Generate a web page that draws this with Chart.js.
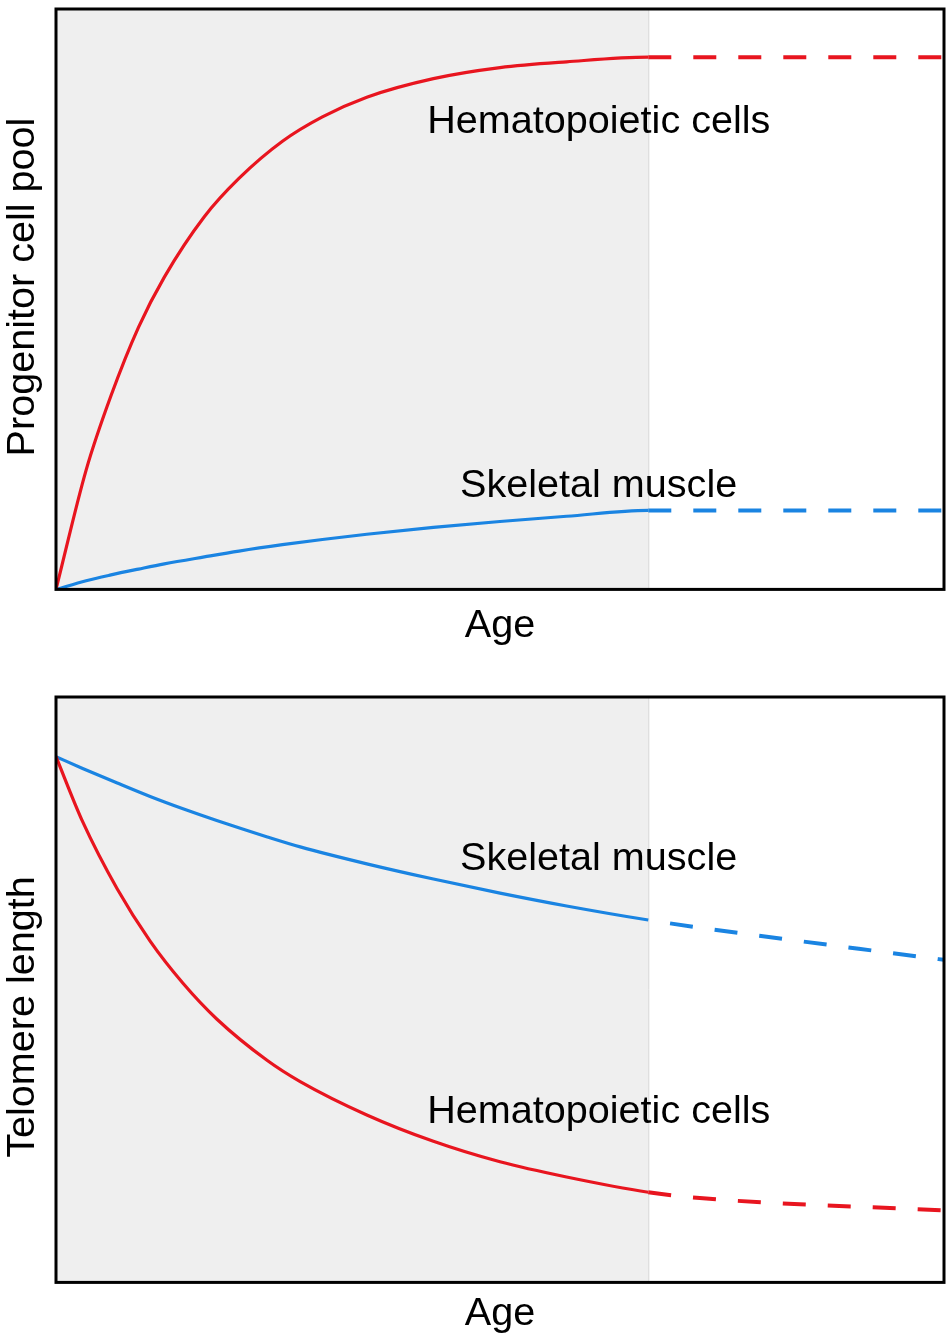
<!DOCTYPE html>
<html>
<head>
<meta charset="utf-8">
<script src="https://cdn.jsdelivr.net/npm/chart.js@4.4.1/dist/chart.umd.min.js"></script>
<style>
  html, body { margin: 0; padding: 0; background: #fff; overflow: hidden; }
  canvas { display: block; }
</style>
</head>
<body>
<canvas id="progenitor" width="946" height="660"></canvas>
<canvas id="telomere" width="946" height="675"></canvas>
<script>
/*************  data  ****************/
// top panel: progenitor cell pool vs age
const progAge    = [0, 3.4, 6.2, 9.3, 12.2, 16.7, 20.6, 25.5, 30, 35, 42.5, 50, 57.5, 66.7, 100]
const progHemato = [0, 20.6, 33.4, 45.2, 53.8, 64.2, 70.8, 77.2, 81.4, 84.8, 88.0, 89.9, 90.9, 91.7, 91.7]
const progMuscle = [0, 1.5, 2.5, 3.5, 4.4, 5.6, 6.6, 7.7, 8.6, 9.5, 10.7, 11.7, 12.6, 13.6, 13.6]

// bottom panel: telomere length vs age
const telAge    = [0, 3, 6.9, 10.6, 14.3, 18.1, 23.8, 27.5, 35, 42.5, 50, 57.5, 66.7, 72.5, 100]
const telHemato = [89.8, 78.7, 67.2, 58.3, 51.1, 45.0, 37.9, 34.3, 28.6, 24.1, 20.6, 18.0, 15.4, 14.4, 12.3]
const telMuscle = [89.8, 87.8, 85.3, 83.0, 80.9, 78.9, 76.1, 74.4, 71.5, 68.9, 66.5, 64.3, 61.9, 60.6, 55.1]

// age where the gray band ends and the lines turn dashed
const solidEnd = 66.7

const RED = '#e8151f'
const BLUE = '#1a84e2'
const FONT = '"Liberation Sans", Arial, Helvetica, sans-serif'

Chart.defaults.font.family = FONT
Chart.defaults.color = '#000'

//*************  plugins  ****************/
// gray band behind the measured part of the curves
const bandPlugin = {
    id: 'band',
    beforeDatasetsDraw(chart) {
        const {ctx, chartArea, scales} = chart
        const xEnd = scales.x.getPixelForValue(solidEnd)
        ctx.save()
        ctx.fillStyle = '#efefef'
        ctx.fillRect(chartArea.left, chartArea.top, xEnd - chartArea.left, chartArea.bottom - chartArea.top)
        ctx.strokeStyle = '#d4d4d4'
        ctx.lineWidth = 1
        ctx.beginPath()
        ctx.moveTo(xEnd + 0.5, chartArea.top)
        ctx.lineTo(xEnd + 0.5, chartArea.bottom)
        ctx.stroke()
        ctx.restore()
    }
}

// black frame, y title and curve names
const framePlugin = {
    id: 'frame',
    afterDraw(chart, args, opts) {
        const {ctx, chartArea, scales} = chart
        ctx.save()
        ctx.strokeStyle = '#000'
        ctx.lineWidth = 3
        ctx.strokeRect(chartArea.left, chartArea.top, chartArea.right - chartArea.left, chartArea.bottom - chartArea.top)

        ctx.fillStyle = '#000'
        ctx.font = '39.6px ' + FONT
        ctx.textBaseline = 'alphabetic'

        // y title, rotated, centred a bit off the plot centre like the original
        ctx.save()
        ctx.translate(opts.yTitle.baseX, opts.yTitle.centerY)
        ctx.rotate(-Math.PI / 2)
        ctx.textAlign = 'center'
        ctx.fillText(opts.yTitle.text, 0, 0)
        ctx.restore()

        ctx.textAlign = 'left'
        opts.labels.forEach(l => {
            ctx.fillText(l.text, scales.x.getPixelForValue(l.x), scales.y.getPixelForValue(l.y))
        })
        ctx.restore()
    }
}

//*************  chart builder  ****************/
function buildSeries(ages, values, color, dashOffset) {
    const dashed = ctx => ctx.p0.parsed.x >= solidEnd - 0.01
    return {
        data: ages.map((a, i) => ({x: a, y: values[i]})),
        borderColor: color,
        borderWidth: 3.2,
        pointRadius: 0,
        cubicInterpolationMode: 'monotone',
        segment: {
            borderDash: ctx => dashed(ctx) ? [23, 22] : undefined,
            borderDashOffset: ctx => dashed(ctx) ? dashOffset : undefined,
            borderWidth: ctx => dashed(ctx) ? 4 : undefined
        }
    }
}

function createChart(canvasId, cfg) {
    return new Chart(document.getElementById(canvasId), {
        type: 'line',
        data: {datasets: cfg.datasets},
        options: {
            responsive: false,
            animation: false,
            events: [],
            layout: {padding: cfg.padding},
            plugins: {
                legend: {display: false},
                tooltip: {enabled: false},
                frame: {labels: cfg.labels, yTitle: cfg.yTitle}
            },
            scales: {
                x: {
                    type: 'linear', min: 0, max: 100,
                    grid: {display: false, drawTicks: false},
                    border: {display: false},
                    ticks: {display: false},
                    title: {
                        display: true,
                        text: 'Age',
                        color: '#000',
                        font: {size: 39.6, lineHeight: 1},
                        padding: {top: cfg.agePad, bottom: 0}
                    }
                },
                y: {
                    type: 'linear', min: 0, max: 100,
                    display: false
                }
            }
        },
        plugins: [bandPlugin, framePlugin]
    })
}

createChart('progenitor', {
    yTitle: {text: 'Progenitor cell pool', baseX: 34, centerY: 287},
    padding: {left: 56, right: 2, top: 9, bottom: 14},
    agePad: 17,
    datasets: [
        buildSeries(progAge, progHemato, RED, 0),
        buildSeries(progAge, progMuscle, BLUE, 0)
    ],
    labels: [
        {text: 'Hematopoietic cells', x: 41.8, y: 78.7},
        {text: 'Skeletal muscle', x: 45.5, y: 16.0}
    ]
})

createChart('telomere', {
    yTitle: {text: 'Telomere length', baseX: 34, centerY: 357},
    padding: {left: 56, right: 2, top: 37, bottom: 1},
    agePad: 12,
    datasets: [
        buildSeries(telAge, telHemato, RED, 0),
        buildSeries(telAge, telMuscle, BLUE, 23)
    ],
    labels: [
        {text: 'Skeletal muscle', x: 45.5, y: 70.5},
        {text: 'Hematopoietic cells', x: 41.8, y: 27.3}
    ]
})
</script>
</body>
</html>
